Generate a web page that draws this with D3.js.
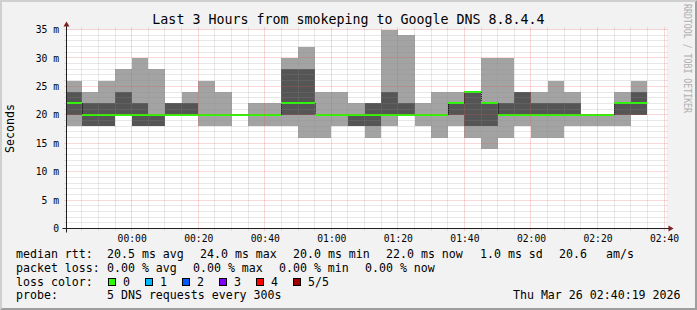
<!DOCTYPE html>
<html>
<head>
<meta charset="utf-8">
<script src="https://cdn.jsdelivr.net/npm/d3@7"></script>
<style>
	html, body { margin: 0; padding: 0; background: #f2f2f2; }
	svg { display: block; }
	text { font-family: "DejaVu Sans Mono", monospace; fill: #000; }
</style>
</head>
<body>
<div id="chart"></div>
<script>
(function () {
	"use strict";

	// start of each 5 minute step (last one has no data yet)
	var binStarts = ["23:40", "23:45", "23:50", "23:55", "00:00", "00:05", "00:10", "00:15", "00:20",
		"00:25", "00:30", "00:35", "00:40", "00:45", "00:50", "00:55", "01:00", "01:05", "01:10",
		"01:15", "01:20", "01:25", "01:30", "01:35", "01:40", "01:45", "01:50", "01:55", "02:00",
		"02:05", "02:10", "02:15", "02:20", "02:25", "02:30", "02:35"];

	// the 5 sorted pings of each step, in ms
	var pingMin    = [18, 18, 18, 20, 18, 18, 20, 20, 18, 18, 20, 18, 18, 18, 16, 16, 18, 18, 16, 18, 20, 18, 16, 18, 16, 14, 16, 18, 16, 16, 18, 18, 18, 18, 20, null];
	var ping2      = [20, 18, 18, 20, 18, 18, 20, 20, 20, 20, 20, 20, 20, 20, 20, 20, 20, 18, 18, 20, 20, 20, 20, 20, 18, 18, 20, 20, 20, 20, 20, 20, 20, 20, 20, null];
	var pingMedian = [22, 20, 20, 20, 20, 20, 20, 20, 20, 20, 20, 20, 20, 22, 22, 20, 20, 20, 20, 20, 20, 20, 20, 22, 24, 22, 20, 20, 20, 20, 20, 20, 20, 22, 22, null];
	var ping4      = [24, 22, 22, 24, 22, 20, 22, 22, 20, 20, 20, 20, 20, 28, 28, 20, 20, 20, 22, 24, 22, 20, 20, 22, 24, 22, 22, 24, 22, 22, 22, 20, 20, 22, 24, null];
	var pingMax    = [26, 24, 26, 28, 30, 28, 22, 24, 26, 24, 20, 22, 22, 30, 32, 24, 24, 22, 22, 35, 34, 22, 24, 24, 24, 30, 30, 24, 24, 26, 24, 20, 20, 24, 26, null];

	var yTicks = [0, 5, 10, 15, 20, 25, 30, 35];
	var xTickLabels = ["00:00", "00:20", "00:40", "01:00", "01:20", "01:40", "02:00", "02:20", "02:40"];

	var rttStats = ["20.5 ms avg", "24.0 ms max", "20.0 ms min", "22.0 ms now", "1.0 ms sd", "20.6", "am/s"];
	var lossStats = ["0.00 % avg", "0.00 % max", "0.00 % min", "0.00 % now"];
	var lossLabels = ["0", "1", "2", "3", "4", "5/5"];
	var lossColors = ["#26ff00", "#00b8ff", "#0059ff", "#7e00ff", "#ff0000", "#a00000"];

	var rangeStart = "23:40:19", rangeEnd = "02:40:19";

	function toDate(hhmm) {
		var p = hhmm.split(":").map(Number);
		// times after midnight belong to the 26th
		return new Date(2026, 2, p[0] >= 12 ? 25 : 26, p[0], p[1], p[2] || 0);
	}

	var W = 697, H = 310,
		svg = d3.select("#chart").append("svg").attr("width", W).attr("height", H);

	// frame with 3d shading
	svg.append("rect").attr("width", W).attr("height", H).attr("fill", "#f2f2f2");
	svg.append("polygon")
		.attr("points", [[0, 0], [0, H], [2, H - 2], [2, 2], [W - 2, 2], [W, 0]].join(" "))
		.attr("fill", "#cfcfcf");
	svg.append("polygon")
		.attr("points", [[0, H], [W, H], [W, 0], [W - 2, 2], [W - 2, H - 2], [2, H - 2]].join(" "))
		.attr("fill", "#9e9e9e");

	var t0 = toDate(rangeStart), t1 = toDate(rangeEnd),
		x = d3.scaleTime().domain([t0, t1]).range([66.2, 665.1]),
		y = d3.scaleLinear().domain([0, 35]).range([228.5, 29.5]),
		plotL = 66.5, plotR = 666.5, plotT = 29.5, plotB = 228.5;

	svg.append("rect")
		.attr("x", plotL).attr("y", plotT)
		.attr("width", plotR - plotL).attr("height", plotB - plotT)
		.attr("fill", "#fff");

	// smoke
	var bins = binStarts.map(function (s, i) {
		var start = toDate(s);
		return {
			x0: x(start < t0 ? t0 : start),
			x1: x(d3.timeMinute.offset(start, 5)),
			min: pingMin[i], p2: ping2[i], med: pingMedian[i], p4: ping4[i], max: pingMax[i]
		};
	}).filter(function (d) { return d.med !== null; });

	var smoke = svg.append("g").attr("shape-rendering", "crispEdges");
	smoke.selectAll(".outer").data(bins).enter().append("rect")
		.attr("x", function (d) { return d.x0; })
		.attr("width", function (d) { return d.x1 - d.x0; })
		.attr("y", function (d) { return y(d.max); })
		.attr("height", function (d) { return y(d.min) - y(d.max); })
		.attr("fill", "#a3a3a3");
	smoke.selectAll(".inner").data(bins).enter().append("rect")
		.attr("x", function (d) { return d.x0; })
		.attr("width", function (d) { return d.x1 - d.x0; })
		.attr("y", function (d) { return y(d.p4); })
		.attr("height", function (d) { return y(d.p2) - y(d.p4); })
		.attr("fill", "#555555");

	// median: green steps, dotted black risers
	var risers = bins.slice(1).filter(function (d, i) { return d.med !== bins[i].med; })
		.map(function (d) {
			var prev = bins[bins.indexOf(d) - 1];
			return { x: d.x0, a: prev.med, b: d.med };
		});
	svg.append("g").selectAll("line").data(risers).enter().append("line")
		.attr("x1", function (d) { return Math.round(d.x) + 0.5; })
		.attr("x2", function (d) { return Math.round(d.x) + 0.5; })
		.attr("y1", function (d) { return y(d.a); })
		.attr("y2", function (d) { return y(d.b); })
		.attr("stroke", "#000").attr("stroke-dasharray", "1,1");
	svg.append("g").attr("shape-rendering", "crispEdges")
		.selectAll("line").data(bins).enter().append("line")
		.attr("x1", function (d) { return d.x0; })
		.attr("x2", function (d) { return d.x1; })
		.attr("y1", function (d) { return y(d.med); })
		.attr("y2", function (d) { return y(d.med); })
		.attr("stroke", lossColors[0]).attr("stroke-width", 2);

	// grid over the graph
	var grid = svg.append("g").attr("stroke-dasharray", "1,1").attr("fill", "none");
	function snap(v) { return Math.round(v - 0.5) + 0.5; }
	var minorY = d3.range(1, 35).filter(function (v) { return v % 5 !== 0; }),
		majorY = d3.range(5, 36, 5),
		stepsX = d3.timeMinute.every(5).range(d3.timeMinute.offset(t0, 1), t1),
		minorX = stepsX.filter(function (d) { return d.getMinutes() % 20 !== 0; }),
		majorX = stepsX.filter(function (d) { return d.getMinutes() % 20 === 0; });

	grid.selectAll(".hmin").data(minorY).enter().append("line")
		.attr("x1", plotL - 2).attr("x2", plotR + 2)
		.attr("y1", function (v) { return snap(y(v)); }).attr("y2", function (v) { return snap(y(v)); })
		.attr("stroke", "rgba(143,143,143,0.4)");
	grid.selectAll(".vmin").data(minorX).enter().append("line")
		.attr("x1", function (d) { return snap(x(d)); }).attr("x2", function (d) { return snap(x(d)); })
		.attr("y1", plotB + 2).attr("y2", plotT - 3)
		.attr("stroke", "rgba(143,143,143,0.4)");
	grid.selectAll(".hmaj").data(majorY).enter().append("line")
		.attr("x1", plotL - 2).attr("x2", plotR + 2)
		.attr("y1", function (v) { return snap(y(v)); }).attr("y2", function (v) { return snap(y(v)); })
		.attr("stroke", "rgba(222,79,79,0.45)");
	grid.selectAll(".vmaj").data(majorX).enter().append("line")
		.attr("x1", function (d) { return snap(x(d)); }).attr("x2", function (d) { return snap(x(d)); })
		.attr("y1", plotB + 2).attr("y2", plotT - 3)
		.attr("stroke", "rgba(222,79,79,0.45)");

	// axes
	svg.append("line").attr("x1", plotL - 4).attr("x2", plotR + 3)
		.attr("y1", plotB).attr("y2", plotB).attr("stroke", "#1f1f1f");
	svg.append("line").attr("x1", plotL).attr("x2", plotL)
		.attr("y1", plotB + 4).attr("y2", plotT - 4).attr("stroke", "#1f1f1f");
	svg.append("polygon")
		.attr("points", [[plotR + 2, plotB - 3], [plotR + 2, plotB + 3], [plotR + 7, plotB]].join(" "))
		.attr("fill", "#801f1f");
	svg.append("polygon")
		.attr("points", [[plotL - 3, plotT - 3], [plotL + 3, plotT - 3], [plotL, plotT - 8]].join(" "))
		.attr("fill", "#801f1f");

	var yAxis = svg.append("g")
		.attr("transform", "translate(" + plotL + ",0)")
		.call(d3.axisLeft(y).tickValues(yTicks).tickSize(0).tickPadding(7.5)
			.tickFormat(function (v) { return v === 0 ? "0" : v + " m"; }));
	var xAxis = svg.append("g")
		.attr("transform", "translate(0," + plotB + ")")
		.call(d3.axisBottom(x).tickValues(xTickLabels.map(toDate)).tickSize(0).tickPadding(6.5)
			.tickFormat(d3.timeFormat("%H:%M")));
	[yAxis, xAxis].forEach(function (ax) {
		ax.select(".domain").remove();
		ax.attr("font-family", null).attr("font-size", null);
		ax.selectAll("text").style("font-size", "9.7px").attr("fill", "#000");
	});

	// titles
	svg.append("text").attr("x", 348.5).attr("y", 24)
		.attr("text-anchor", "middle").style("font-size", "13.3px")
		.text("Last 3 Hours from smokeping to Google DNS 8.8.4.4");
	svg.append("text").attr("transform", "translate(13.5,128.5) rotate(-90)")
		.attr("text-anchor", "middle").style("font-size", "11.6px")
		.text("Seconds");
	svg.append("text").attr("transform", "translate(684,4) rotate(90)")
		.style("font-size", "10px").style("fill", "#b0b0b0")
		.attr("textLength", 109).attr("lengthAdjust", "spacingAndGlyphs")
		.text("RRDTOOL / TOBI OETIKER");

	// legend
	var legend = svg.append("g").style("font-size", "11.6px"),
		rttCols = [107, 200, 293, 386, 480, 559, 606],
		lossCols = [107, 193, 279, 365];

	function row(label, yy) {
		legend.append("text").attr("x", 16).attr("y", yy).text(label);
	}
	row("median rtt:", 258);
	rttStats.forEach(function (s, i) {
		legend.append("text").attr("x", rttCols[i]).attr("y", 258).text(s);
	});
	row("packet loss:", 272);
	lossStats.forEach(function (s, i) {
		legend.append("text").attr("x", lossCols[i]).attr("y", 272).text(s);
	});
	row("loss color:", 285.7);
	lossLabels.forEach(function (s, i) {
		var sx = Math.round(108 + i * 36.9);
		legend.append("rect").attr("x", sx + 0.5).attr("y", 278.5)
			.attr("width", 7).attr("height", 7)
			.attr("fill", lossColors[i]).attr("stroke", "#000");
		legend.append("text").attr("x", sx + 15).attr("y", 285.7).text(s);
	});
	row("probe:", 299.3);
	legend.append("text").attr("x", 107).attr("y", 299.3).text("5 DNS requests every 300s");
	legend.append("text").attr("x", 680.5).attr("y", 299.3).attr("text-anchor", "end")
		.text("Thu Mar 26 02:40:19 2026");
})();
</script>
</body>
</html>
